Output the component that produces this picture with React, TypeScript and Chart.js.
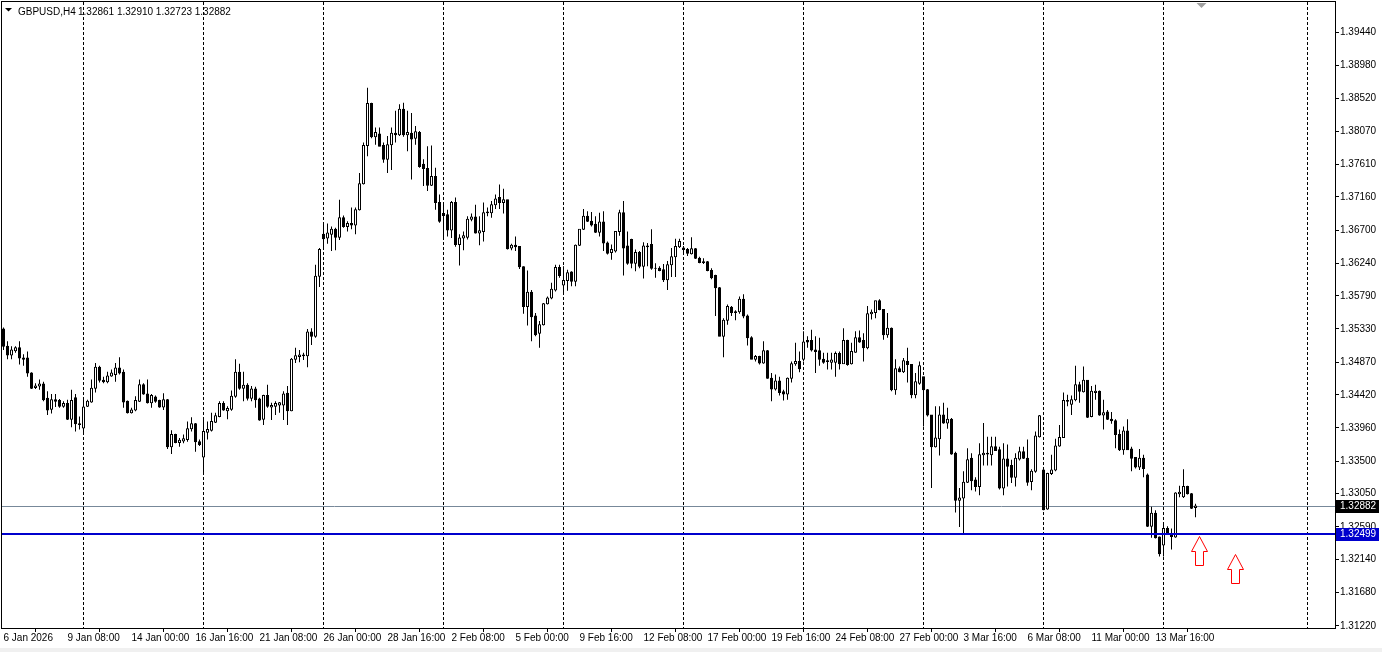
import React, { useEffect, useRef } from "react";
import { Chart, registerables } from "chart.js";

Chart.register(...registerables);

// H4 candles, 6 Jan 2026 16:00 .. 17 Mar 2026 08:00
const OPEN = [
  1.3533, 1.3509, 1.3497, 1.3503, 1.3507, 1.3493, 1.3493, 1.3472, 1.3452, 1.3454,
  1.3457, 1.3437, 1.3422, 1.3435, 1.3434, 1.3426, 1.343, 1.3408, 1.3438, 1.3402,
  1.3396, 1.3426, 1.3432, 1.3451, 1.348, 1.3462, 1.346, 1.3468, 1.347, 1.3479,
  1.3473, 1.3433, 1.3417, 1.3421, 1.3433, 1.3456, 1.3443, 1.3431, 1.3439, 1.3434,
  1.3425, 1.3435, 1.337, 1.3387, 1.3376, 1.3378, 1.338, 1.3395, 1.3402, 1.3377,
  1.3356, 1.339, 1.3393, 1.3404, 1.3412, 1.343, 1.342, 1.3422, 1.344, 1.3473,
  1.3451, 1.3455, 1.3437, 1.345, 1.3436, 1.3408, 1.3441, 1.3425, 1.3426, 1.3428,
  1.3428, 1.3444, 1.342, 1.3491, 1.3495, 1.3497, 1.3496, 1.3529, 1.3523, 1.3606,
  1.3664, 1.3659, 1.3664, 1.3671, 1.366, 1.3687, 1.3675, 1.3679, 1.3677, 1.3698,
  1.3734, 1.3787, 1.3845, 1.3799, 1.3803, 1.3787, 1.3768, 1.3788, 1.3804, 1.3802,
  1.3837, 1.3802, 1.3804, 1.3797, 1.3805, 1.3761, 1.3755, 1.3732, 1.3744, 1.3708,
  1.3693, 1.3691, 1.367, 1.3708, 1.365, 1.3659, 1.366, 1.3685, 1.3688, 1.3666,
  1.3668, 1.3694, 1.3694, 1.3705, 1.3715, 1.3708, 1.3712, 1.3645, 1.3649, 1.3647,
  1.3619, 1.3564, 1.3584, 1.3551, 1.3527, 1.3539, 1.3568, 1.3576, 1.3587, 1.3618,
  1.3594, 1.36, 1.3612, 1.3599, 1.3649, 1.3671, 1.3689, 1.3682, 1.3678, 1.3667,
  1.3681, 1.3652, 1.3639, 1.3641, 1.3668, 1.3694, 1.3648, 1.3657, 1.3624, 1.3639,
  1.362, 1.3647, 1.365, 1.3617, 1.3617, 1.3615, 1.3601, 1.3622, 1.3633, 1.3647,
  1.3645, 1.3643, 1.3637, 1.3644, 1.3631, 1.3625, 1.3626, 1.3614, 1.3607, 1.359,
  1.3523, 1.3545, 1.3563, 1.3556, 1.3557, 1.3574, 1.3551, 1.3521, 1.3491, 1.3495,
  1.3486, 1.3503, 1.3465, 1.345, 1.3461, 1.3446, 1.3443, 1.3465, 1.3485, 1.3488,
  1.3491, 1.3517, 1.3517, 1.3504, 1.3503, 1.3491, 1.3488, 1.3487, 1.3487, 1.3499,
  1.3485, 1.3517, 1.3485, 1.3501, 1.3521, 1.3517, 1.3507, 1.3554, 1.3556, 1.3572,
  1.356, 1.3525, 1.3534, 1.3449, 1.3478, 1.3474, 1.3488, 1.3484, 1.3442, 1.3458,
  1.3467, 1.3449, 1.3414, 1.337, 1.3381, 1.3414, 1.3403, 1.3408, 1.3361, 1.3296,
  1.3299, 1.3321, 1.3354, 1.3324, 1.3315, 1.3359, 1.336, 1.3359, 1.337, 1.3366,
  1.3313, 1.3353, 1.3344, 1.3328, 1.3353, 1.3363, 1.3354, 1.3322, 1.3336, 1.3384,
  1.3338, 1.3284, 1.3333, 1.3338, 1.3371, 1.3383, 1.3433, 1.3429, 1.3435, 1.3456,
  1.3446, 1.3462, 1.3412, 1.3445, 1.3447, 1.3414, 1.3418, 1.3408, 1.3406, 1.3387,
  1.3366, 1.3392, 1.3367, 1.3355, 1.3342, 1.3354, 1.3331, 1.326, 1.3278, 1.3245,
  1.3234, 1.3257, 1.3249, 1.3245, 1.3305, 1.3301, 1.3315, 1.3305, 1.32861,
];
const HIGH = [
  1.3535, 1.3516, 1.3509, 1.3509, 1.3516, 1.3498, 1.3502, 1.3473, 1.3458, 1.3463,
  1.346, 1.3447, 1.3443, 1.3443, 1.3436, 1.3433, 1.3435, 1.3449, 1.3443, 1.3412,
  1.3435, 1.3435, 1.3463, 1.3486, 1.3482, 1.3467, 1.3474, 1.3477, 1.3486, 1.3494,
  1.3477, 1.3434, 1.3424, 1.344, 1.3463, 1.3458, 1.3463, 1.3443, 1.3441, 1.3435,
  1.3444, 1.3436, 1.3393, 1.3388, 1.3382, 1.3387, 1.3405, 1.3411, 1.3403, 1.338,
  1.3411, 1.3405, 1.3417, 1.3417, 1.3433, 1.3433, 1.3426, 1.3448, 1.3491, 1.3485,
  1.3474, 1.3458, 1.3454, 1.3453, 1.3438, 1.3442, 1.3456, 1.3431, 1.3433, 1.3432,
  1.3447, 1.3454, 1.3493, 1.3507, 1.3504, 1.35, 1.3533, 1.3534, 1.3622, 1.3645,
  1.368, 1.3679, 1.3675, 1.3673, 1.3712, 1.369, 1.3682, 1.3701, 1.3701, 1.3749,
  1.3791, 1.3867, 1.3846, 1.3812, 1.3812, 1.3791, 1.38, 1.3812, 1.3835, 1.3844,
  1.3846, 1.3835, 1.3832, 1.3814, 1.3807, 1.3768, 1.3786, 1.3787, 1.3756, 1.3719,
  1.3705, 1.3698, 1.371, 1.3715, 1.3664, 1.3668, 1.3689, 1.3693, 1.3705, 1.3689,
  1.3708, 1.3701, 1.371, 1.3719, 1.3733, 1.3727, 1.3712, 1.3651, 1.3661, 1.3648,
  1.362, 1.3614, 1.3587, 1.3555, 1.3544, 1.3569, 1.3578, 1.3597, 1.3622, 1.3622,
  1.362, 1.3615, 1.3613, 1.365, 1.3671, 1.3699, 1.3696, 1.3695, 1.3689, 1.3694,
  1.3696, 1.3654, 1.365, 1.3668, 1.3698, 1.371, 1.3668, 1.3658, 1.3643, 1.3641,
  1.3653, 1.3652, 1.3671, 1.3624, 1.362, 1.3623, 1.3627, 1.3645, 1.3658, 1.3658,
  1.3648, 1.3645, 1.366, 1.3645, 1.3633, 1.3631, 1.3627, 1.3617, 1.3608, 1.3591,
  1.3548, 1.3567, 1.3565, 1.3559, 1.3578, 1.3581, 1.3553, 1.3523, 1.3497, 1.3496,
  1.3516, 1.3504, 1.3472, 1.347, 1.3467, 1.3449, 1.3466, 1.3488, 1.3514, 1.3502,
  1.353, 1.3523, 1.3532, 1.3523, 1.3521, 1.35, 1.35, 1.35, 1.3502, 1.3502,
  1.3534, 1.3518, 1.3514, 1.353, 1.3531, 1.3527, 1.3565, 1.356, 1.3572, 1.3574,
  1.356, 1.3555, 1.3535, 1.3491, 1.3481, 1.3493, 1.3507, 1.3484, 1.3472, 1.3488,
  1.3467, 1.345, 1.3414, 1.3426, 1.3426, 1.3431, 1.3424, 1.341, 1.3363, 1.3313,
  1.3336, 1.3368, 1.3361, 1.3328, 1.3375, 1.3403, 1.3384, 1.3384, 1.3384, 1.337,
  1.3375, 1.3373, 1.3352, 1.3361, 1.337, 1.337, 1.338, 1.3339, 1.3391, 1.3414,
  1.334, 1.3334, 1.3359, 1.3381, 1.34, 1.3445, 1.3442, 1.3441, 1.3482, 1.346,
  1.3481, 1.3462, 1.3454, 1.3456, 1.3448, 1.3435, 1.3421, 1.3418, 1.3408, 1.3394,
  1.3398, 1.3408, 1.337, 1.3356, 1.3367, 1.3359, 1.3333, 1.3287, 1.3282, 1.3246,
  1.3263, 1.326, 1.3257, 1.3307, 1.3316, 1.3339, 1.3316, 1.3306, 1.3291,
];
const LOW = [
  1.3504, 1.3491, 1.3491, 1.35, 1.3484, 1.3482, 1.3467, 1.345, 1.345, 1.3449,
  1.3433, 1.3414, 1.3416, 1.3425, 1.3424, 1.3424, 1.3407, 1.3397, 1.3391, 1.3394,
  1.3389, 1.3425, 1.3431, 1.3445, 1.3459, 1.3458, 1.3458, 1.3467, 1.346, 1.347,
  1.3424, 1.3416, 1.3416, 1.3419, 1.3432, 1.3442, 1.343, 1.3424, 1.3431, 1.3424,
  1.3421, 1.3367, 1.336, 1.3375, 1.337, 1.3375, 1.3377, 1.3391, 1.3363, 1.3371,
  1.3334, 1.338, 1.3391, 1.3403, 1.3411, 1.342, 1.3408, 1.342, 1.3438, 1.3449,
  1.3433, 1.3434, 1.3433, 1.3424, 1.3406, 1.34, 1.3424, 1.3407, 1.3414, 1.3417,
  1.3407, 1.34, 1.3419, 1.3486, 1.3487, 1.349, 1.348, 1.3511, 1.3521, 1.3591,
  1.3643, 1.3651, 1.3641, 1.3642, 1.3656, 1.3673, 1.3668, 1.3671, 1.3664, 1.3697,
  1.3733, 1.3772, 1.3797, 1.3788, 1.3786, 1.3763, 1.3749, 1.3753, 1.3791, 1.38,
  1.3799, 1.3779, 1.374, 1.3788, 1.3756, 1.3731, 1.3724, 1.3731, 1.3698, 1.368,
  1.3658, 1.3661, 1.3659, 1.3647, 1.3621, 1.3642, 1.3657, 1.3682, 1.3665, 1.3649,
  1.3654, 1.3689, 1.3687, 1.3699, 1.3699, 1.3693, 1.3643, 1.3642, 1.3641, 1.3616,
  1.3554, 1.3538, 1.3516, 1.3523, 1.3507, 1.3538, 1.3567, 1.3574, 1.3585, 1.3604,
  1.3584, 1.3586, 1.3592, 1.3592, 1.3648, 1.367, 1.3681, 1.3675, 1.3666, 1.3661,
  1.3641, 1.3636, 1.3629, 1.3639, 1.3662, 1.3607, 1.3622, 1.3617, 1.3613, 1.3617,
  1.3603, 1.362, 1.3615, 1.3604, 1.3613, 1.3598, 1.3587, 1.3605, 1.3605, 1.3645,
  1.3638, 1.3634, 1.3636, 1.363, 1.3624, 1.3623, 1.3613, 1.3602, 1.3551, 1.3523,
  1.3494, 1.3539, 1.3551, 1.3545, 1.3554, 1.3548, 1.351, 1.3491, 1.3488, 1.3484,
  1.3485, 1.3464, 1.3433, 1.3448, 1.3441, 1.3434, 1.3435, 1.3459, 1.3482, 1.3473,
  1.3488, 1.3507, 1.3502, 1.3472, 1.3482, 1.3485, 1.3477, 1.3477, 1.3467, 1.3477,
  1.3485, 1.3482, 1.3484, 1.35, 1.3514, 1.3488, 1.3505, 1.3546, 1.3548, 1.3559,
  1.3518, 1.3521, 1.3447, 1.3442, 1.3473, 1.3472, 1.3459, 1.3437, 1.3437, 1.3456,
  1.3398, 1.3412, 1.3313, 1.3369, 1.3358, 1.3402, 1.3395, 1.3359, 1.3279, 1.3259,
  1.325, 1.332, 1.331, 1.3308, 1.3303, 1.3344, 1.3344, 1.3344, 1.3364, 1.3311,
  1.3303, 1.3315, 1.332, 1.3315, 1.3351, 1.3353, 1.3316, 1.331, 1.3334, 1.3383,
  1.3282, 1.3283, 1.3331, 1.3336, 1.337, 1.3382, 1.3426, 1.3414, 1.3433, 1.3431,
  1.3445, 1.341, 1.3411, 1.3435, 1.3413, 1.3394, 1.3407, 1.3402, 1.3368, 1.3364,
  1.3359, 1.3366, 1.3336, 1.334, 1.3338, 1.3328, 1.3259, 1.3244, 1.3243, 1.3218,
  1.3218, 1.3248, 1.3228, 1.3244, 1.33, 1.3299, 1.3304, 1.3284, 1.32723,
];
const CLOSE = [
  1.3509, 1.3497, 1.3504, 1.3507, 1.3493, 1.3491, 1.3472, 1.3451, 1.3454, 1.3457,
  1.3435, 1.3421, 1.3435, 1.3433, 1.3426, 1.343, 1.3408, 1.3434, 1.3402, 1.3401,
  1.3425, 1.3433, 1.3451, 1.348, 1.3462, 1.346, 1.3468, 1.3472, 1.3479, 1.3472,
  1.3432, 1.3417, 1.3421, 1.3434, 1.3456, 1.3443, 1.3431, 1.3441, 1.3433, 1.3425,
  1.3435, 1.337, 1.3387, 1.3376, 1.3379, 1.3381, 1.3395, 1.3402, 1.3377, 1.3373,
  1.3391, 1.3394, 1.3405, 1.3413, 1.343, 1.3421, 1.3423, 1.344, 1.3473, 1.3451,
  1.3455, 1.3437, 1.345, 1.3435, 1.3407, 1.3441, 1.3426, 1.3427, 1.343, 1.3431,
  1.3443, 1.342, 1.3491, 1.3496, 1.3497, 1.3496, 1.3529, 1.3523, 1.3606, 1.3643,
  1.3658, 1.3666, 1.3671, 1.366, 1.3687, 1.3675, 1.3679, 1.3677, 1.3698, 1.3734,
  1.3787, 1.3845, 1.3799, 1.3805, 1.3786, 1.3768, 1.3788, 1.3804, 1.3802, 1.3837,
  1.3802, 1.3805, 1.3796, 1.3806, 1.3758, 1.3755, 1.3732, 1.3744, 1.3708, 1.3682,
  1.369, 1.367, 1.3708, 1.365, 1.3659, 1.3662, 1.3685, 1.3688, 1.3666, 1.3669,
  1.3694, 1.3695, 1.3705, 1.3713, 1.3708, 1.3712, 1.3644, 1.3649, 1.3647, 1.3619,
  1.3564, 1.3584, 1.355, 1.3525, 1.3539, 1.3568, 1.3576, 1.3588, 1.3618, 1.3607,
  1.36, 1.3611, 1.3599, 1.3649, 1.3671, 1.3689, 1.3682, 1.3677, 1.3667, 1.3681,
  1.3652, 1.3638, 1.3643, 1.3668, 1.3694, 1.3645, 1.3624, 1.3624, 1.3639, 1.362,
  1.3648, 1.3648, 1.3617, 1.3617, 1.3614, 1.3601, 1.3622, 1.3633, 1.3647, 1.3654,
  1.3643, 1.3638, 1.3644, 1.3631, 1.3625, 1.3626, 1.3614, 1.3604, 1.359, 1.3523,
  1.3545, 1.3564, 1.3556, 1.3557, 1.3574, 1.3551, 1.3521, 1.3491, 1.3495, 1.3486,
  1.3503, 1.3465, 1.345, 1.3461, 1.3445, 1.3443, 1.3465, 1.3485, 1.3488, 1.3478,
  1.3515, 1.3515, 1.3504, 1.3502, 1.3491, 1.3487, 1.3489, 1.349, 1.3499, 1.3485,
  1.3517, 1.3484, 1.3502, 1.3521, 1.3515, 1.3507, 1.3554, 1.3556, 1.3572, 1.356,
  1.3525, 1.3534, 1.3449, 1.3478, 1.3474, 1.3489, 1.3484, 1.3442, 1.346, 1.3482,
  1.3449, 1.3414, 1.337, 1.3382, 1.3414, 1.3403, 1.3408, 1.336, 1.3296, 1.3299,
  1.3321, 1.3352, 1.3323, 1.3315, 1.3359, 1.3361, 1.3361, 1.337, 1.3365, 1.3313,
  1.3353, 1.3343, 1.3328, 1.3354, 1.3363, 1.3354, 1.3321, 1.3336, 1.3385, 1.3413,
  1.3283, 1.3333, 1.3338, 1.3371, 1.3383, 1.3434, 1.3434, 1.3435, 1.3456, 1.3447,
  1.3462, 1.3411, 1.3447, 1.3447, 1.3414, 1.3417, 1.3408, 1.3406, 1.3387, 1.3366,
  1.3392, 1.3366, 1.3354, 1.3342, 1.3354, 1.334, 1.326, 1.3278, 1.3244, 1.3222,
  1.3257, 1.3249, 1.3246, 1.3306, 1.3307, 1.3315, 1.3305, 1.3285, 1.32882,
];

const X_TICK_INDEX = [0, 16, 32, 48, 64, 80, 96, 112, 128, 144, 160, 176, 192, 208, 224, 240, 256, 272, 288];
const X_TICK_LABELS = [
  "6 Jan 2026", "9 Jan 08:00", "14 Jan 00:00", "16 Jan 16:00", "21 Jan 08:00",
  "26 Jan 00:00", "28 Jan 16:00", "2 Feb 08:00", "5 Feb 00:00", "9 Feb 16:00",
  "12 Feb 08:00", "17 Feb 00:00", "19 Feb 16:00", "24 Feb 08:00", "27 Feb 00:00",
  "3 Mar 16:00", "6 Mar 08:00", "11 Mar 00:00", "13 Mar 16:00",
];
const Y_TICKS = [
  1.3944, 1.3898, 1.3852, 1.3807, 1.3761, 1.3716, 1.367, 1.3624, 1.3579, 1.3533,
  1.3487, 1.3442, 1.3396, 1.335, 1.3305, 1.3259, 1.3214, 1.3168, 1.3122,
];
const SEPARATORS = [20, 50, 80, 110, 140, 170, 200, 230, 260, 290, 326];
const BID_PRICE = 1.32882;
const LEVEL_PRICE = 1.32499;
const ARROW_POINTS = [
  { x: 299, y: 1.32258 },
  { x: 308, y: 1.32009 },
];
const SYMBOL = "GBPUSD,H4";
const OHLC_TEXT = "1.32861 1.32910 1.32723 1.32882";

const FONT = "Liberation Sans, Arial, sans-serif";

export default function App() {
  const ref = useRef<HTMLCanvasElement | null>(null);

  useEffect(() => {
    const canvas = ref.current;
    if (!canvas) return;

    const bodies = OPEN.map((o, i) => {
      const c = CLOSE[i];
      const pad = 0.00007;
      return { x: i, y: [Math.min(o, c) - pad, Math.max(o, c) + pad] };
    });
    const bodyColors = OPEN.map((o, i) => (CLOSE[i] > o ? "#ffffff" : "#000000"));
    const wicks = OPEN.map((_, i) => ({ x: i, y: [LOW[i], HIGH[i]] }));

    const arrow = document.createElement("canvas");
    arrow.width = 17;
    arrow.height = 30;
    const a = arrow.getContext("2d")!;
    a.beginPath();
    a.moveTo(8.5, 0.5);
    a.lineTo(16.5, 15.5);
    a.lineTo(12.5, 15.5);
    a.lineTo(12.5, 29.5);
    a.lineTo(4.5, 29.5);
    a.lineTo(4.5, 15.5);
    a.lineTo(0.5, 15.5);
    a.closePath();
    a.fillStyle = "#ffffff";
    a.fill();
    a.strokeStyle = "#ff0000";
    a.lineWidth = 1;
    a.stroke();

    const mt4Plugin = {
      id: "mt4",
      beforeDraw(chart: any) {
        const ctx = chart.ctx;
        ctx.save();
        ctx.fillStyle = "#ffffff";
        ctx.fillRect(0, 0, chart.width, chart.height);
        ctx.fillStyle = "#f0f0f0";
        ctx.fillRect(0, 648, chart.width, chart.height - 648);
        ctx.restore();
      },
      beforeDatasetsDraw(chart: any) {
        const { ctx, chartArea, scales } = chart;
        ctx.save();
        ctx.strokeStyle = "#000000";
        ctx.lineWidth = 1;
        ctx.setLineDash([3, 2]);
        SEPARATORS.forEach((idx) => {
          const x = Math.floor(scales.x.getPixelForValue(idx)) + 0.5;
          ctx.beginPath();
          ctx.moveTo(x, chartArea.top);
          ctx.lineTo(x, chartArea.bottom);
          ctx.stroke();
        });
        ctx.setLineDash([]);
        const yb = Math.round(scales.y.getPixelForValue(BID_PRICE)) + 0.5;
        ctx.strokeStyle = "#778899";
        ctx.beginPath();
        ctx.moveTo(chartArea.left, yb);
        ctx.lineTo(chartArea.right, yb);
        ctx.stroke();
        ctx.restore();
      },
      afterDatasetsDraw(chart: any) {
        const { ctx, chartArea, scales } = chart;
        ctx.save();
        const yl = Math.round(scales.y.getPixelForValue(LEVEL_PRICE));
        ctx.fillStyle = "#0000cd";
        ctx.fillRect(chartArea.left, yl - 1, chartArea.right - chartArea.left, 2);
        ctx.restore();
      },
      afterDraw(chart: any) {
        const { ctx, chartArea, scales } = chart;
        ctx.save();
        // frame
        ctx.strokeStyle = "#000000";
        ctx.lineWidth = 1;
        ctx.strokeRect(1.5, 1.5, chartArea.right - 1, chartArea.bottom - 1);
        // header
        ctx.fillStyle = "#000000";
        ctx.beginPath();
        ctx.moveTo(5, 8);
        ctx.lineTo(12, 8);
        ctx.lineTo(8.5, 11.5);
        ctx.closePath();
        ctx.fill();
        ctx.font = "10px " + FONT;
        ctx.textBaseline = "alphabetic";
        ctx.textAlign = "left";
        ctx.fillText(SYMBOL, 18, 15);
        ctx.fillText(OHLC_TEXT, 78, 15);
        // shift marker
        ctx.fillStyle = "#a0a0a0";
        ctx.beginPath();
        ctx.moveTo(1196.5, 3);
        ctx.lineTo(1206.5, 3);
        ctx.lineTo(1201.5, 8);
        ctx.closePath();
        ctx.fill();
        // price labels
        const boxes = [
          { p: BID_PRICE, bg: "#000000" },
          { p: LEVEL_PRICE, bg: "#0000cd" },
        ];
        boxes.forEach((b) => {
          const y = Math.round(scales.y.getPixelForValue(b.p));
          ctx.fillStyle = b.bg;
          ctx.fillRect(chartArea.right + 1, y - 6, 43, 13);
          ctx.fillStyle = "#ffffff";
          ctx.textBaseline = "middle";
          ctx.fillText(b.p.toFixed(5), chartArea.right + 5, y + 0.5);
        });
        ctx.restore();
      },
    };

    const chart = new Chart(canvas, {
      type: "bar",
      data: {
        datasets: [
          {
            type: "scatter",
            data: ARROW_POINTS,
            pointStyle: arrow as any,
            order: 0,
          } as any,
          {
            type: "bar",
            data: bodies as any,
            backgroundColor: bodyColors,
            borderColor: "#000000",
            borderWidth: 1,
            borderSkipped: false,
            barThickness: 3,
            grouped: false,
            inflateAmount: 0,
            order: 1,
          } as any,
          {
            type: "bar",
            data: wicks as any,
            backgroundColor: "#000000",
            borderWidth: 0,
            barThickness: 1,
            grouped: false,
            inflateAmount: 0,
            order: 2,
          } as any,
        ],
      },
      options: {
        animation: false,
        responsive: false,
        devicePixelRatio: 1,
        events: [],
        layout: { padding: { left: 1, top: 2, right: 0, bottom: 0 }, autoPadding: false } as any,
        plugins: { legend: { display: false }, tooltip: { enabled: false } },
        scales: {
          x: {
            type: "linear",
            min: -0.625,
            max: 332.875,
            offset: false,
            afterBuildTicks: (s: any) => {
              s.ticks = X_TICK_INDEX.map((v) => ({ value: v }));
            },
            afterFit: (s: any) => {
              s.height = 24;
              s.paddingLeft = 0;
              s.paddingRight = 0;
            },
            ticks: {
              callback: (_v: any, idx: number) => X_TICK_LABELS[idx],
              align: "start",
              maxRotation: 0,
              minRotation: 0,
              autoSkip: false,
              padding: 0,
              color: "#000000",
              font: { family: FONT, size: 10 },
            },
            grid: { drawOnChartArea: false, drawTicks: true, tickLength: 4, color: "#000000" },
            border: { display: false },
          },
          y: {
            type: "linear",
            position: "right",
            min: 1.31192,
            max: 1.398555,
            afterBuildTicks: (s: any) => {
              s.ticks = Y_TICKS.map((v) => ({ value: v }));
            },
            afterFit: (s: any) => {
              s.width = 47;
              s.paddingTop = 0;
              s.paddingBottom = 0;
            },
            ticks: {
              callback: (v: any) => Number(v).toFixed(5),
              autoSkip: false,
              padding: 1,
              color: "#000000",
              font: { family: FONT, size: 10 },
            },
            grid: { drawOnChartArea: false, drawTicks: true, tickLength: 4, color: "#000000" },
            border: { display: false },
          },
        },
      } as any,
      plugins: [mt4Plugin],
    });

    return () => chart.destroy();
  }, []);

  return (
    <div style={{ position: "fixed", left: 0, top: 0, width: 1382, height: 652, background: "#fff" }}>
      <canvas ref={ref} width={1382} height={652} style={{ display: "block" }} />
    </div>
  );
}
